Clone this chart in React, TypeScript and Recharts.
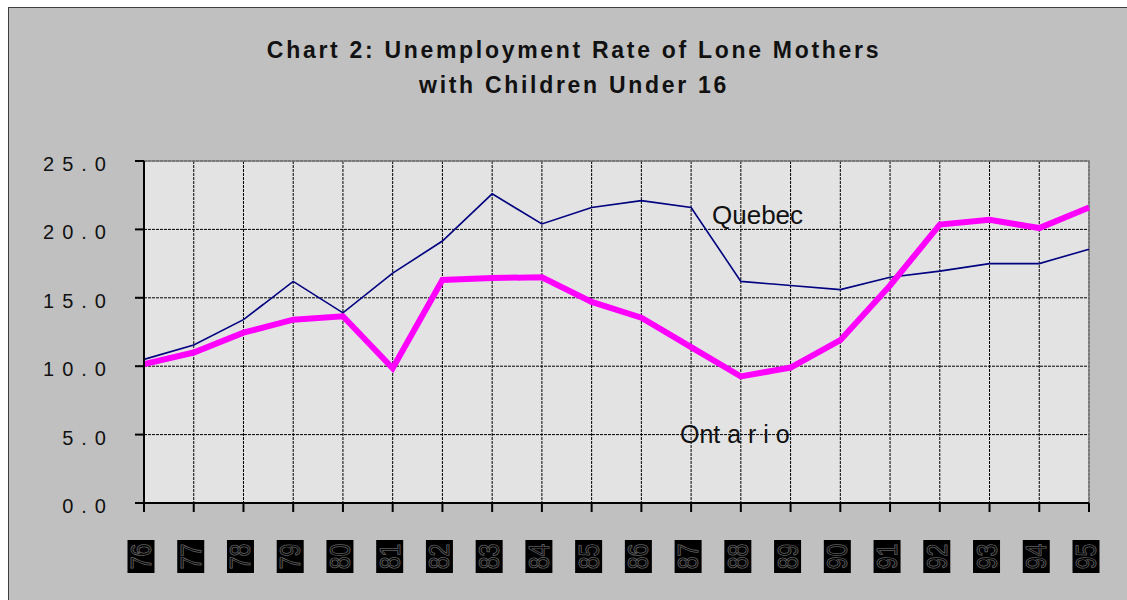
import React from "react";
import { LineChart, Line, XAxis, YAxis, CartesianGrid, ReferenceArea } from "recharts";

const years = ["76", "77", "78", "79", "80", "81", "82", "83", "84", "85", "86", "87", "88", "89", "90", "91", "92", "93", "94", "95"];
const quebec = [10.5, 11.55, 13.4, 16.2, 13.9, 16.8, 19.15, 22.6, 20.4, 21.6, 22.1, 21.6, 16.2, 15.9, 15.6, 16.5, 16.95, 17.5, 17.5, 18.55];
const ontario = [10.15, 11.0, 12.45, 13.4, 13.65, 9.85, 16.3, 16.45, 16.5, 14.7, 13.55, 11.4, 9.25, 9.9, 11.9, 15.9, 20.35, 20.7, 20.1, 21.6];
const yTicks = [0, 5, 10, 15, 20, 25];
const titleLines = ["Chart 2: Unemployment Rate of Lone Mothers", "with Children Under 16"];

const data = years.map((y, i) => ({ year: y, Quebec: quebec[i], Ontario: ontario[i] }));

const FONT = "'Liberation Sans', Arial, Helvetica, sans-serif";

const YTick = (props: any) => {
  const { x, y, payload } = props;
  return (
    <text x={x - 19} y={y + 10} textAnchor="end" fontFamily={FONT} fontSize={20} letterSpacing={8} fill="#111">
      {Number(payload.value).toFixed(1)}
    </text>
  );
};

const XTick = (props: any) => {
  const { x, y, payload } = props;
  const top = y + 26;
  const cx = x - 3;
  const cy = top + 16.5;
  return (
    <g>
      <rect x={x - 16.5} y={top} width={27} height={33} fill="#000" />
      <g transform={`translate(${cx + 10}, ${cy}) rotate(-90) scale(1, 1.3)`}>
        <text
          x={0}
          y={0}
          textAnchor="middle"
          fontFamily={FONT}
          fontSize={23}
          fill="#000"
          stroke="#5f5f5f"
          strokeWidth={0.7}
        >
          {payload.value}
        </text>
      </g>
    </g>
  );
};

export default function App() {
  return (
    <div
      style={{
        position: "fixed",
        left: 8,
        top: 7,
        width: 1119,
        height: 593,
        overflow: "hidden",
        background: "#c0c0c0",
        borderLeft: "1px solid #404040",
        borderTop: "1px solid #404040",
        boxSizing: "border-box",
      }}
    >
      <div style={{ position: "relative", width: 1130, height: 592 }}>
        <LineChart
          width={1130}
          height={592}
          data={data}
          margin={{ top: 153, right: 50, left: 0, bottom: 37 }}
        >
          <CartesianGrid fill="#e3e3e3" stroke="#000" strokeDasharray="3 1" />
          <ReferenceArea x1="76" x2="95" y1={0} y2={25} fill="none" stroke="#808080" strokeWidth={1.5} ifOverflow="visible" />
          <XAxis
            dataKey="year"
            height={60}
            interval={0}
            tickSize={9}
            tick={<XTick />}
            axisLine={{ stroke: "#000", strokeWidth: 2 }}
            tickLine={{ stroke: "#000", strokeWidth: 2 }}
            padding={{ left: 0, right: 0 }}
          />
          <YAxis
            width={135}
            domain={[0, 25]}
            ticks={yTicks}
            interval={0}
            tickSize={9}
            tick={<YTick />}
            axisLine={{ stroke: "#000", strokeWidth: 2 }}
            tickLine={{ stroke: "#000", strokeWidth: 2 }}
          />
          <Line type="linear" dataKey="Quebec" stroke="#000080" strokeWidth={1.6} dot={false} isAnimationActive={false} />
          <Line type="linear" dataKey="Ontario" stroke="#ff00ff" strokeWidth={6} dot={false} isAnimationActive={false} />
        </LineChart>
        <svg
          width={1130}
          height={592}
          style={{ position: "absolute", left: 0, top: 0, pointerEvents: "none" }}
        >
          <text x={565} y={50} textAnchor="middle" fontFamily={FONT} fontWeight="bold" fontSize={23} letterSpacing={2.7} fill="#111">
            {titleLines[0]}
          </text>
          <text x={565} y={85} textAnchor="middle" fontFamily={FONT} fontWeight="bold" fontSize={23} letterSpacing={2.7} fill="#111">
            {titleLines[1]}
          </text>
          <text x={703} y={216} fontFamily={FONT} fontSize={26} fill="#111">Quebec</text>
          <text x={671} y={435} fontFamily={FONT} fontSize={25} fill="#111">Ont a r i o</text>
        </svg>
      </div>
    </div>
  );
}
